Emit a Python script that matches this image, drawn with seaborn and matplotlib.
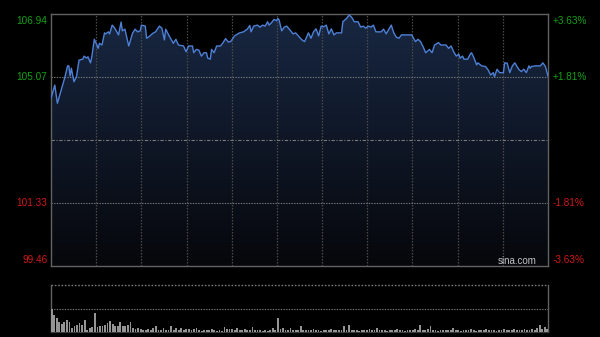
import numpy as np
import pandas as pd
import matplotlib
matplotlib.use("Agg")
import matplotlib.pyplot as plt
from matplotlib.colors import LinearSegmentedColormap
import matplotlib.transforms as mtransforms
import seaborn as sns

# ---------------- data ----------------
prev_close = 103.20
y_ticks_left = ["106.94", "105.07", "101.33", "99.46"]
y_tick_vals = [106.94, 105.07, 101.33, 99.46]
y_ticks_right = ["+3.63%", "+1.81%", "-1.81%", "-3.63%"]

price_minutes = [0, 3, 5, 8, 11, 13, 14, 15, 16, 18, 20, 22, 25, 26, 28, 29, 31, 32, 34, 36,
                 37, 38, 40, 42, 43, 45, 46, 48, 50, 53, 55, 56, 58, 61, 64, 66, 68, 70, 71, 74,
                 75, 77, 80, 82, 85, 87, 89, 90, 93, 96, 98, 100,
                 104, 106, 108, 111, 112, 114, 116, 118, 120, 122, 123, 125, 126, 128, 130, 133, 135, 137, 139, 141,
                 144, 148, 151, 154, 156, 157, 159, 162, 164, 166, 168, 170, 171, 173, 175, 177, 178, 179, 181, 183,
                 185, 188, 190, 192, 195,
                 197, 199, 202, 204, 206, 208, 210, 212, 214, 216, 218, 220, 222, 224, 228, 229, 232, 234, 236, 238,
                 241, 243, 245, 247, 249, 251, 253, 255, 259, 261, 263, 267, 269, 271, 273, 275, 278, 283, 286, 288,
                 290,
                 292, 294, 297, 299, 301, 304, 306, 310, 312, 314, 316, 318, 320, 321, 323, 324, 327, 329, 330, 332,
                 334, 335, 338, 341, 343, 345, 347, 348, 350, 352, 355, 356, 358, 360, 362, 364, 367, 369, 371, 373,
                 375, 376, 377, 380, 384, 386, 388, 390]

price_values = [104.44, 104.83, 104.29, 104.68, 105.08, 105.40, 105.40, 105.10, 105.33, 104.93,
                105.08, 105.57, 105.60, 105.69, 105.63, 105.67, 105.49, 105.67, 106.19, 106.02,
                105.92, 106.07, 106.02, 106.38, 106.35, 106.41, 106.35, 106.61, 106.52, 106.32,
                106.70, 106.44, 106.49, 105.99, 106.37, 106.49, 106.41, 106.44, 106.61, 106.58,
                106.22, 106.27, 106.37, 106.41, 106.58, 106.52, 106.17, 106.49, 106.27, 106.07,
                106.19, 106.02,
                105.99, 105.82, 105.99, 105.99, 105.79, 105.89, 105.87, 105.69, 105.79, 105.79,
                105.63, 105.60, 105.89, 105.79, 105.99, 105.99, 106.09, 106.21, 106.11, 106.12,
                106.29, 106.38, 106.41, 106.49, 106.60, 106.41, 106.58, 106.61, 106.55, 106.61,
                106.58, 106.71, 106.61, 106.68, 106.78, 106.74, 106.81, 106.76, 106.44, 106.55,
                106.58, 106.44, 106.35, 106.38, 106.25,
                106.17, 106.12, 106.38, 106.22, 106.41, 106.50, 106.29, 106.58, 106.56, 106.61,
                106.35, 106.50, 106.32, 106.38, 106.38, 106.71, 106.81, 106.91, 106.84, 106.71,
                106.71, 106.55, 106.58, 106.52, 106.58, 106.55, 106.61, 106.41, 106.41, 106.49,
                106.35, 106.61, 106.38, 106.25, 106.22, 106.32, 106.32, 106.32, 106.12, 106.19,
                106.12,
                105.97, 105.79, 105.89, 105.79, 106.02, 106.09, 106.02, 106.02, 105.92, 105.99,
                105.82, 105.69, 105.75, 105.63, 105.69, 105.60, 105.60, 105.75, 105.79, 105.63,
                105.43, 105.49, 105.40, 105.38, 105.28, 105.13, 105.20, 105.08, 105.30, 105.20,
                105.20, 105.49, 105.48, 105.20, 105.40, 105.49, 105.30, 105.23, 105.30, 105.20,
                105.40, 105.33, 105.38, 105.40, 105.40, 105.49, 105.38, 105.09]

volume_values = [100, 74, 60, 41, 35, 41, 52, 41, 17, 27, 31, 38, 31, 50, 10, 17, 21, 81,
                 21, 27, 24, 31, 38, 45, 35, 24, 24, 41, 27, 27, 31, 41, 17, 13, 17, 13, 10,
                 7, 13, 10, 17, 24, 7, 10, 17, 10, 10, 27, 10, 17, 7, 17, 10, 13, 13, 7, 13, 17, 7, 5, 10,
                 7, 7, 13, 7, 5, 7, 5, 21, 13, 13, 13, 7, 17, 10, 7, 13, 10, 7, 21, 10,
                 7, 10, 5, 10, 5, 7, 17, 10, 60, 13, 17, 10, 7, 17, 10, 7, 7, 24,
                 10, 7, 10, 7, 13, 7, 10, 5, 7, 10,
                 7, 13, 7, 10, 7, 10, 24, 10, 31, 7,
                 10, 7, 5, 10, 7, 10, 13, 7, 10, 17,
                 7, 10, 7, 5, 7, 10, 7, 13, 7, 10,
                 5, 7, 10, 7, 13, 10, 31, 7, 10, 13,
                 24, 10, 7, 5, 7, 10, 7, 10, 7, 17,
                 7, 10, 5, 7, 10, 7, 13, 7, 5, 10,
                 7, 10, 13, 7, 10, 7, 5, 10, 7, 13,
                 7, 10, 7, 13, 10, 7, 10, 13, 7, 10,
                 13, 10, 17, 31, 13, 21, 13]
volume_step = 2  # minutes between volume bars

assert len(price_minutes) == len(price_values)

price_df = pd.DataFrame({"minute": price_minutes, "price": price_values})
vol_df = pd.DataFrame({"minute": np.arange(len(volume_values)) * volume_step,
                       "volume": volume_values})

# ---------------- style ----------------
sns.set_theme(style="white")
plt.rcParams["font.family"] = ["Liberation Sans", "DejaVu Sans"]

BG = "#000000"
SPINE = "#626262"
GRID_V = "#4a4a4a"
GRID_H = "#7a7a7a"
LINE = "#4d80d6"
GREEN = "#12a012"
RED = "#d01818"

fig = plt.figure(figsize=(6.0, 3.37), dpi=100, facecolor=BG)
ax = fig.add_axes([51 / 600, 71 / 337, 497 / 600, 252 / 337])
axv = fig.add_axes([51 / 600, 5 / 337, 497 / 600, 47 / 337])

ymin, ymax = y_tick_vals[-1], y_tick_vals[0]
xmax = 390

# ---------- main price panel ----------
ax.set_facecolor(BG)
ax.set_xlim(0, xmax)
ax.set_ylim(ymin, ymax)

# gradient fill under the line
cmap = LinearSegmentedColormap.from_list("fill", ["#06070b", "#182742"])
grad = np.linspace(0, 1, 256).reshape(-1, 1)
im = ax.imshow(grad, extent=[0, xmax, ymin, ymax], origin="lower", aspect="auto",
               cmap=cmap, zorder=1, interpolation="bicubic")
poly = ax.fill_between(price_df["minute"], price_df["price"], ymin,
                       facecolor="none", edgecolor="none", zorder=1)
im.set_clip_path(poly.get_paths()[0], transform=ax.transData)

# grid lines
for k in range(1, 11):
    ax.axvline(xmax * k / 11, color=GRID_V, lw=0.9, ls=(0, (1.2, 1.2)), zorder=2)
for v in (y_tick_vals[1], y_tick_vals[2]):
    ax.axhline(v, color=GRID_H, lw=0.8, ls=(0, (1.2, 1.2)), zorder=2)
ax.axhline(prev_close, color=GRID_H, lw=0.8, ls=(0, (3, 1.5, 1, 1.5)), zorder=2)

sns.lineplot(data=price_df, x="minute", y="price", ax=ax, color=LINE, lw=1.0, zorder=4)

ax.set_xticks([])
ax.set_yticks([])
ax.set_xlabel("")
ax.set_ylabel("")
for s in ax.spines.values():
    s.set_visible(True)
    s.set_color(SPINE)
    s.set_linewidth(1.0)

trans = mtransforms.blended_transform_factory(ax.transAxes, ax.transData)
vas = ["top", "center", "center", "bottom"]
offs = [-0.06, 0, 0, 0.03]
for lab, rlab, v, va, off in zip(y_ticks_left, y_ticks_right, y_tick_vals, vas, offs):
    col = GREEN if v > prev_close else RED
    ax.text(-0.0075, v + off, lab, transform=trans, ha="right", va=va, color=col, fontsize=7.2)
    ax.text(1.010, v + off, rlab, transform=trans, ha="left", va=va, color=col, fontsize=7.2)

ax.text(0.978, 0.018, "sina.com", transform=ax.transAxes, ha="right", va="center",
        color="#c4c4c4", fontsize=7, zorder=5)

# ---------- volume panel ----------
axv.set_facecolor(BG)
axv.bar(vol_df["minute"], vol_df["volume"], width=1.4, color="#949494", linewidth=0, zorder=3)
axv.set_xlim(-0.5, xmax + 0.5)
axv.set_ylim(0, 200)
axv.axhline(100, color=GRID_H, lw=0.8, ls=(0, (1.2, 1.2)), zorder=2)
axv.axhline(200, color=GRID_H, lw=1.0, ls=(0, (1.2, 1.2)), zorder=2, clip_on=False)
axv.set_xticks([])
axv.set_yticks([])
axv.set_xlabel("")
axv.set_ylabel("")
axv.spines["top"].set_visible(False)
for side in ("left", "right"):
    axv.spines[side].set_visible(True)
    axv.spines[side].set_color(SPINE)
    axv.spines[side].set_linewidth(1.0)
axv.spines["bottom"].set_visible(True)
axv.spines["bottom"].set_color("#3a3a3a")
axv.spines["bottom"].set_linewidth(0.8)

fig.savefig("out.png", dpi=100, facecolor=BG)
